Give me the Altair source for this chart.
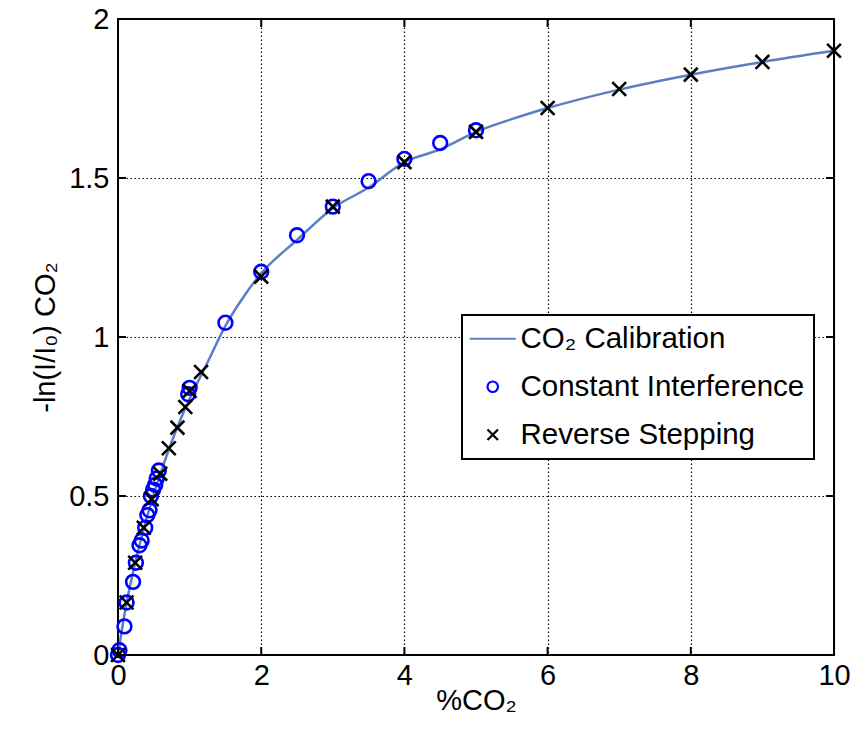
import altair as alt
import pandas as pd

# Fitted calibration curve: absorbance vs CO2 concentration
cal_x = [0.0, 0.1, 0.2, 0.3, 0.4, 0.5, 0.6, 0.7, 0.8, 0.9, 1.0, 1.25, 1.5, 1.75,
         2.0, 2.5, 3.0, 3.5, 4.0, 4.5, 5.0, 5.5, 6.0, 7.0, 8.0, 9.0, 10.0]
cal_y = [0.0, 0.14, 0.25, 0.345, 0.43, 0.505, 0.575, 0.64, 0.70, 0.755, 0.805, 0.92,
         1.035, 1.125, 1.2, 1.305, 1.405, 1.47, 1.55, 1.59, 1.645, 1.685, 1.72,
         1.778, 1.825, 1.865, 1.90]

# Constant-interference measurements
ci_x = [0.0, 0.02, 0.09, 0.12, 0.21, 0.25, 0.30, 0.33, 0.38, 0.41, 0.44, 0.46,
        0.49, 0.52, 0.54, 0.57, 0.98, 1.0, 1.5, 2.0, 2.5, 3.0, 3.5, 4.0, 4.5, 5.0]
ci_y = [0.0, 0.015, 0.09, 0.165, 0.23, 0.29, 0.345, 0.36, 0.40, 0.44, 0.455, 0.50,
        0.52, 0.535, 0.555, 0.58, 0.82, 0.84, 1.045, 1.205, 1.32, 1.41, 1.49, 1.56,
        1.61, 1.65]

# Reverse-stepping measurements
rs_x = [0.0, 0.12, 0.24, 0.36, 0.47, 0.59, 0.71, 0.83, 0.94, 1.0, 1.16, 2.0, 3.0,
        4.0, 5.0, 6.0, 7.0, 8.0, 9.0, 10.0]
rs_y = [0.0, 0.165, 0.29, 0.40, 0.49, 0.57, 0.65, 0.715, 0.78, 0.83, 0.89, 1.19,
        1.41, 1.55, 1.645, 1.72, 1.78, 1.825, 1.865, 1.90]

x_ticks = [0, 2, 4, 6, 8, 10]
y_ticks = [0, 0.5, 1, 1.5, 2]

CAL = "CO₂ Calibration"
CI = "Constant Interference"
RS = "Reverse Stepping"
series_names = [CAL, CI, RS]
series_colors = ["#5b7fc4", "#0000ff", "#000000"]
series_shapes = ["M-4.4,0H4.4", "circle", "M-1,-1L1,1M-1,1L1,-1"]

FONT = "Liberation Sans"
W, H = 716, 636
TICK = 8

cal_df = pd.DataFrame({"x": cal_x, "y": cal_y, "series": CAL})
pts_df = pd.concat([
    pd.DataFrame({"x": ci_x, "y": ci_y, "series": CI}),
    pd.DataFrame({"x": rs_x, "y": rs_y, "series": RS}),
], ignore_index=True)

x_scale = alt.Scale(domain=[0, 10], nice=False, zero=False)
y_scale = alt.Scale(domain=[0, 2], nice=False, zero=False)
color_scale = alt.Scale(domain=series_names, range=series_colors)
shape_scale = alt.Scale(domain=series_names, range=series_shapes)

legend = alt.Legend(
    title=None, orient="none", legendX=344, legendY=296,
    strokeColor="black", fillColor="white", padding=9,
    labelFont=FONT, labelFontSize=29.5, labelColor="black", labelLimit=0,
    symbolOffset=7, labelOffset=13,
    symbolSize=110, symbolStrokeWidth=2.2, rowPadding=17,
)

x_axis = alt.Axis(values=x_ticks, title="%CO₂", grid=True, domain=False, ticks=False,
                  labelPadding=6, titlePadding=-4, labelFlush=False)
y_axis = alt.Axis(values=y_ticks, title="-ln(I/I₀) CO₂", grid=True, domain=False,
                  ticks=False, labelPadding=9, titlePadding=8, labelFlush=False,
                  labelExpr="format(datum.value, '~g')")

X = alt.X("x:Q", scale=x_scale, axis=x_axis)
Y = alt.Y("y:Q", scale=y_scale, axis=y_axis)

curve = alt.Chart(cal_df).mark_line(strokeWidth=2.5, interpolate="monotone").encode(
    x=X, y=Y, color=alt.Color("series:N", scale=color_scale, legend=legend)
)

points = alt.Chart(pts_df).mark_point(filled=False, size=190, strokeWidth=2.6, opacity=1).encode(
    x=X, y=Y,
    color=alt.Color("series:N", scale=color_scale, legend=legend),
    shape=alt.Shape("series:N", scale=shape_scale, legend=legend),
)

# Inward tick marks on all four sides of the box
xt = pd.DataFrame({"x": x_ticks})
yt = pd.DataFrame({"y": y_ticks})
tick_style = dict(color="black", strokeWidth=2)
ticks = [
    alt.Chart(xt).mark_rule(**tick_style).encode(x=X, y=alt.value(H), y2=alt.value(H - TICK)),
    alt.Chart(xt).mark_rule(**tick_style).encode(x=X, y=alt.value(0), y2=alt.value(TICK)),
    alt.Chart(yt).mark_rule(**tick_style).encode(y=Y, x=alt.value(0), x2=alt.value(TICK)),
    alt.Chart(yt).mark_rule(**tick_style).encode(y=Y, x=alt.value(W), x2=alt.value(W - TICK)),
]

chart = alt.layer(curve, points, *ticks).properties(
    width=W, height=H, background="white",
    autosize=alt.AutoSizeParams(type="none"),
    padding={"left": 118, "top": 19, "right": 16, "bottom": 82},
).configure_view(
    stroke="black", strokeWidth=2
).configure_legend(
    strokeWidth=2
).configure_axis(
    labelFont=FONT, labelFontSize=29, labelColor="black",
    titleFont=FONT, titleFontSize=29, titleColor="black", titleFontWeight="normal",
    gridColor="black", gridDash=[1.5, 2.5], gridWidth=1.2, gridOpacity=1,
)

chart.save("out.html", embed_options={"renderer": "svg", "actions": False})
